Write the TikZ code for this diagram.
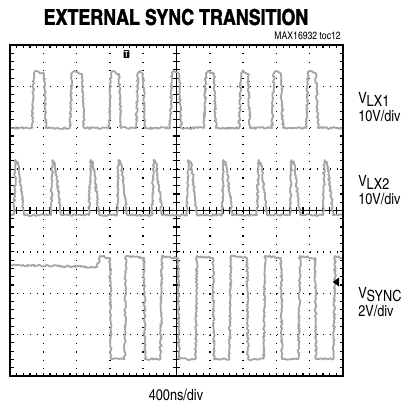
\documentclass[tikz,border=0pt]{standalone}
\usepackage{fontspec}
\setmainfont{TeX Gyre Heros Cn}
\newfontfamily\titlefont{TeX Gyre Heros Cn}[BoldFeatures={FakeBold=1.5}]
\usetikzlibrary{decorations.pathmorphing}

\tikzset{
  trace/.style={draw=black!35, line width=1.3pt, line join=round,
    decorate, decoration={random steps, segment length=1pt, amplitude=0.7pt}},
  hdots/.style={line width=1pt, dash pattern=on 0.8pt off 3.94pt},
  vdots/.style={line width=1pt, dash pattern=on 0.8pt off 5.09pt},
  lbl/.style={anchor=west, align=left, inner sep=0pt, font=\fontsize{11}{12.5}\selectfont}
}

\begin{document}
\begin{tikzpicture}[x=0.25mm, y=-0.25mm]
  \useasboundingbox (0,0) rectangle (412,408);
  % graticule
  \foreach \i in {1,2,3,4,6,7,8,9}
    \draw [vdots] ({10+33.3*\i},45) -- ({10+33.3*\i},376);
  \foreach \j in {1,2,3,5,6,7}
    \draw [hdots] (10,{45+41.375*\j}) -- (343,{45+41.375*\j});
  \draw [line width=1pt] (10,210.5) -- (343,210.5);
  \draw [line width=1pt] (176.5,45) -- (176.5,376);
  \foreach \k in {1,...,49} {
    \draw [line width=0.8pt] ({10+6.66*\k},207) -- ++(0,7);
    \draw [line width=0.8pt] ({10+6.66*\k},376) -- ++(0,-3.5);
    \draw [line width=0.8pt] ({10+6.66*\k},45) -- ++(0,3);
  }
  \foreach \k in {1,...,39} {
    \draw [line width=0.8pt] (173,{45+8.275*\k}) -- ++(7,0);
    \draw [line width=0.8pt] (10,{45+8.275*\k}) -- ++(3.5,0);
    \draw [line width=0.8pt] (343,{45+8.275*\k}) -- ++(-3.5,0);
  }

  % VLX1
  \draw [trace] (11,128) \foreach \a/\b in {33/45,71/83,110/120,137/144,171/180,205/215,240/249,273/282,307/317}
    { -- ({\a-1},128) -- ({\a+1},73) -- ({\a+3},71) -- ({\b-1},74) -- ({\b+1},128) } -- (342,128);
  % VLX2
  \draw [trace] (11,215) \foreach \a in {14,51,89,117,152,187,222,257,290,323}
    { -- (\a,215) -- ({\a+1.5},160) -- ({\a+4},163) -- ({\a+5},171) -- ({\a+10},215) } -- (342,215);
  % VSYNC
  \draw [trace] (11,265) -- (97,267) -- (100,256) -- (108,258)
    \foreach \f/\r in {110/126,144/162,178/197,213/231,247/265,281/300,315/335}
    { -- (\f,258) -- ({\f+1},359) -- ({\r-1.5},359) -- (\r,256) } -- (342,258);

  % frame
  \draw [line width=1.8pt] (10,45) rectangle (343,376);

  % markers
  \node [fill=black, text=white, inner sep=0.6pt, rounded corners=0.5pt, font=\bfseries\fontsize{6}{6}\selectfont] (trig) at (126.5,54) {T};
  \fill (333,282) -- (339,277.5) -- (339,286.5) -- cycle;

  % texts
  \node (title) at (176,17) {\titlefont\bfseries\fontsize{15.5}{16}\selectfont EXTERNAL SYNC TRANSITION};
  \node [anchor=east, inner sep=0pt, font=\fontsize{7.5}{8}\selectfont] (toc) at (341,36) {MAX16932 toc12};
  \node [lbl] (vlx1) at (358,107) {V\raisebox{-2pt}{LX1}\\10V/div};
  \node [lbl] (vlx2) at (358,190) {V\raisebox{-2pt}{LX2}\\10V/div};
  \node [lbl] (vsync) at (358,302) {V\raisebox{-2pt}{SYNC}\\2V/div};
  \node [font=\fontsize{11}{12}\selectfont] (tdiv) at (176,395) {400ns/div};
\end{tikzpicture}
\end{document}
